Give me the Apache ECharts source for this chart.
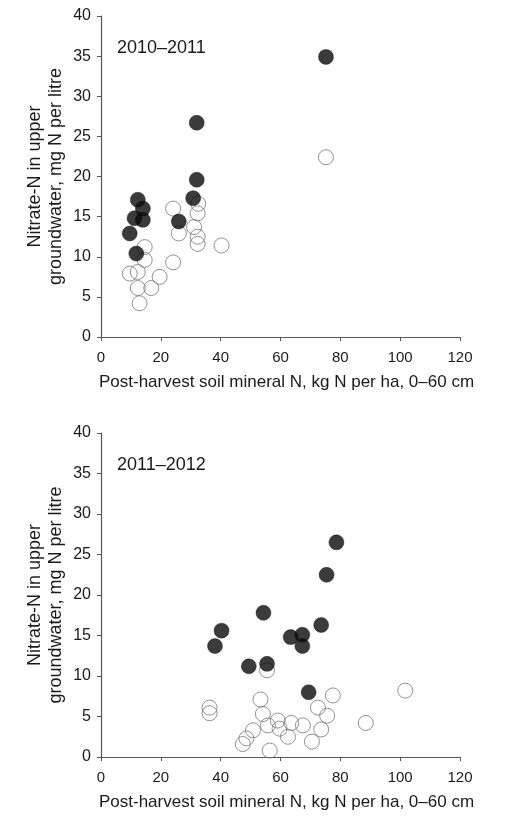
<!DOCTYPE html>
<html>
<head>
<meta charset="utf-8">
<title>Nitrate-N vs post-harvest soil mineral N</title>
<script src="https://cdn.jsdelivr.net/npm/echarts@6/dist/echarts.min.js"></script>
<style>
  html, body { margin: 0; padding: 0; background: #fff; }
  #chart { width: 508px; height: 817px; }
</style>
</head>
<body>
<div id="chart"></div>
<script>
// Season 2010–2011: [soil mineral N (kg N/ha), nitrate-N (mg N/l)]
const filled2010 = [
  [75.2, 34.9], [32.0, 26.7], [32.0, 19.6], [30.8, 17.3], [26.0, 14.4],
  [12.3, 17.1], [14.0, 16.0], [11.2, 14.8], [14.0, 14.6], [9.6, 12.9],
  [11.8, 10.4]
];
const open2010 = [
  [75.2, 22.4], [32.5, 16.6], [32.3, 15.4], [31.1, 13.7], [32.3, 12.5],
  [32.3, 11.6], [40.3, 11.4], [24.1, 16.0], [26.0, 12.9], [24.1, 9.3],
  [14.6, 11.2], [14.6, 9.6], [9.6, 7.9], [12.3, 8.1], [19.6, 7.5],
  [16.8, 6.1], [12.3, 6.1], [12.9, 4.2]
];

// Season 2011–2012
const filled2011 = [
  [78.7, 26.5], [75.4, 22.5], [54.3, 17.8], [73.6, 16.3], [40.3, 15.6],
  [38.1, 13.7], [63.4, 14.8], [67.3, 15.1], [67.3, 13.7], [49.4, 11.2],
  [55.5, 11.5], [69.4, 8.0]
];
const open2011 = [
  [55.5, 10.7], [77.5, 7.6], [101.7, 8.2], [88.5, 4.2], [36.3, 6.1],
  [36.3, 5.4], [53.3, 7.1], [54.1, 5.3], [72.5, 6.1], [75.6, 5.1],
  [73.6, 3.4], [70.5, 1.9], [56.4, 0.8], [47.4, 1.6], [48.6, 2.3],
  [50.8, 3.3], [55.8, 3.9], [59.1, 4.5], [59.7, 3.5], [63.6, 4.2],
  [62.5, 2.5], [67.5, 3.9]
];

const seasonLabels = ['2010–2011', '2011–2012'];
const xTitle = 'Post-harvest soil mineral N, kg N per ha, 0–60 cm';
const yTitle = 'Nitrate-N in upper\ngroundwater, mg N per litre';

const FONT = '"Liberation Sans", Arial, sans-serif';
const axisColor = '#555';
const textColor = '#1a1a1a';

function xAxisFor(idx) {
  return {
    gridIndex: idx, type: 'value', min: 0, max: 120, interval: 20,
    name: xTitle, nameLocation: 'middle', nameGap: 37,
    nameTextStyle: { fontFamily: FONT, fontSize: 17, color: textColor, padding: [0, 0, 0, 12] },
    axisLine: { show: true, onZero: false, lineStyle: { color: axisColor, width: 1.2 } },
    axisTick: { show: true, length: 4, lineStyle: { color: axisColor } },
    axisLabel: { fontFamily: FONT, fontSize: 15, color: textColor, margin: 13 },
    splitLine: { show: false }
  };
}
function yAxisFor(idx) {
  return {
    gridIndex: idx, type: 'value', min: 0, max: 40, interval: 5,
    name: yTitle, nameLocation: 'middle', nameGap: 34, nameRotate: 90,
    nameMoveOverlap: false,
    nameTextStyle: { fontFamily: FONT, fontSize: 18, color: textColor, lineHeight: 21 },
    axisLine: { show: true, onZero: false, lineStyle: { color: axisColor, width: 1.2 } },
    axisTick: { show: true, length: 4, lineStyle: { color: axisColor } },
    axisLabel: { fontFamily: FONT, fontSize: 16, color: textColor, margin: 10 },
    splitLine: { show: false }
  };
}
function openSeries(idx, data) {
  return {
    type: 'scatter', xAxisIndex: idx, yAxisIndex: idx, data: data,
    symbol: 'circle', symbolSize: 15, z: 2,
    itemStyle: { color: 'rgba(255,255,255,0)', borderColor: '#777', borderWidth: 1 },
    emphasis: { disabled: true }
  };
}
function filledSeries(idx, data) {
  return {
    type: 'scatter', xAxisIndex: idx, yAxisIndex: idx, data: data,
    symbol: 'circle', symbolSize: 15, z: 3,
    itemStyle: { color: '#0a0a0a', borderColor: '#0a0a0a', borderWidth: 0.5 },
    emphasis: { disabled: true }
  };
}

const chart = echarts.init(document.getElementById('chart'), null, { renderer: 'canvas' });
chart.setOption({
  backgroundColor: '#fff',
  animation: false,
  title: [
    { text: seasonLabels[0], left: 112, top: 34,
      textStyle: { fontFamily: FONT, fontSize: 18, fontWeight: 'normal', color: textColor } },
    { text: seasonLabels[1], left: 112, top: 451,
      textStyle: { fontFamily: FONT, fontSize: 18, fontWeight: 'normal', color: textColor } }
  ],
  grid: [
    { left: 101, width: 359, top: 16, height: 321 },
    { left: 101, width: 359, top: 433, height: 324 }
  ],
  xAxis: [xAxisFor(0), xAxisFor(1)],
  yAxis: [yAxisFor(0), yAxisFor(1)],
  series: [
    openSeries(0, open2010), filledSeries(0, filled2010),
    openSeries(1, open2011), filledSeries(1, filled2011)
  ]
});
</script>
</body>
</html>
